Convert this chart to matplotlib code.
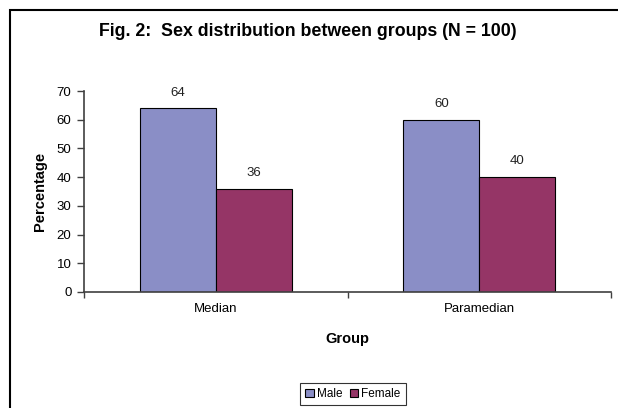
import numpy as np
import matplotlib.pyplot as plt
from matplotlib.patches import Rectangle

groups = ['Median', 'Paramedian']
male = [64, 60]
female = [36, 40]
series_names = ['Male', 'Female']
yticks = [0, 10, 20, 30, 40, 50, 60, 70]

MALE_COLOR = '#8A8EC6'
FEMALE_COLOR = '#953566'

plt.rcParams['font.family'] = ['Liberation Sans', 'DejaVu Sans']

fig = plt.figure(figsize=(6.18, 4.08), dpi=100)
ax = fig.add_axes([84 / 618, 1 - 292 / 408, (611 - 84) / 618, (292 - 91) / 408])

x = np.arange(len(groups))
width = 0.288
b1 = ax.bar(x - width / 2, male, width, color=MALE_COLOR, edgecolor='black',
            linewidth=0.8, label=series_names[0])
b2 = ax.bar(x + width / 2, female, width, color=FEMALE_COLOR, edgecolor='black',
            linewidth=0.8, label=series_names[1])

# value labels above each bar
for bars in (b1, b2):
    for rect in bars:
        h = rect.get_height()
        ax.annotate('{:g}'.format(h), (rect.get_x() + rect.get_width() / 2, h),
                    xytext=(0, 7), textcoords='offset points',
                    ha='center', va='bottom', fontsize=9.5, color='#222222')

ax.set_xlim(-0.5, len(groups) - 0.5)
ax.set_ylim(0, 70)
ax.set_yticks(yticks)
ax.set_xticks(x)
ax.set_xticklabels(groups, fontsize=9.5)
ax.set_xticks(np.arange(len(groups) + 1) - 0.5, minor=True)
ax.tick_params(axis='x', which='major', length=0, pad=8)
ax.tick_params(axis='x', which='minor', length=4, width=1, color='#404040', direction='out')
ax.tick_params(axis='y', length=5, width=1, color='#404040', labelsize=9.5, pad=4)

for side in ('top', 'right'):
    ax.spines[side].set_visible(False)
for side in ('left', 'bottom'):
    ax.spines[side].set_color('#404040')
    ax.spines[side].set_linewidth(1.2)

ax.set_ylabel('Percentage', fontsize=10.5, fontweight='bold', labelpad=7)
ax.set_xlabel('Group', fontsize=10.5, fontweight='bold', labelpad=12)

fig.text(308 / 618, 1 - 32 / 408, 'Fig. 2:  Sex distribution between groups (N = 100)',
         ha='center', va='center', fontsize=12.8, fontweight='bold')

leg = fig.legend(loc='center', bbox_to_anchor=(353 / 618, 1 - 394 / 408), ncol=2,
                 fontsize=8.5, frameon=True, fancybox=False, handlelength=0.7,
                 handleheight=0.7, handletextpad=0.3, columnspacing=0.6,
                 borderpad=0.45, borderaxespad=0)
leg.get_frame().set_edgecolor('black')
leg.get_frame().set_linewidth(0.8)

# chart border, running off the right and bottom edges
fig.patches.append(Rectangle((10 / 618, -0.1), 1.0, 1.1 - 10 / 408, transform=fig.transFigure,
                             fill=False, edgecolor='black', linewidth=1.5))

fig.savefig('out.png', dpi=100)
